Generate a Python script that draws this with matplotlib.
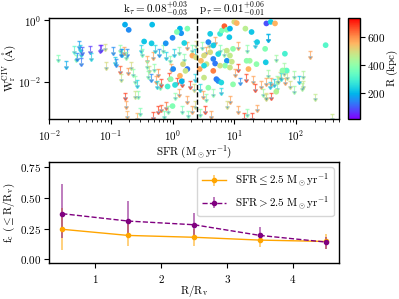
import numpy as np
import matplotlib
matplotlib.use("Agg")
import matplotlib.pyplot as plt
from matplotlib.colors import Normalize, to_rgba
from matplotlib.cm import ScalarMappable

plt.rcParams['font.family'] = 'serif'
plt.rcParams['font.serif'] = ['cmr10']
plt.rcParams['mathtext.fontset'] = 'cm'
plt.rcParams['axes.unicode_minus'] = False
plt.rcParams['axes.formatter.use_mathtext'] = True
plt.rcParams['font.size'] = 8
plt.rcParams['ytick.major.pad'] = 2

# detections: log10 SFR, log10 W_r, R (kpc)
det_log_sfr = [-0.77, -0.71, -0.33, -0.46, -0.34, 0.00, 0.12, 0.14, 0.07, 0.24,
               -0.11, 0.19, 0.01, -0.08, 0.00, 0.24, 0.32, 0.38, 0.21, 0.12,
               0.17, -0.03, 0.04, 0.15, 0.61, 0.58, 0.66, 0.77, 0.80, 0.84,
               0.88, 0.92, 0.93, 1.00, 1.04, 1.18, 1.28, 1.52, 1.59, 1.66,
               1.37, 1.50, 1.51, 1.82, 2.48, 1.85, 1.78, 1.68, 1.25, 1.20,
               0.51, 0.46, 0.55, 0.66, 0.69, 0.74, 0.88, 0.93, 0.88, 0.96,
               0.85, 0.66, 0.71, 0.74, 0.79, 0.44, 0.51, 0.98, 0.58, 1.36,
               0.51, 0.98, 1.23, 0.93, 0.61, 0.77]
det_log_w = [-0.14, -0.31, -0.14, -0.69, -0.75, -0.57, -0.27, -0.42, -0.38, -0.27,
             -0.75, -0.74, -1.59, -2.16, -2.80, -1.59, -1.15, -1.21, -1.65, -1.81,
             -1.43, -1.92, -2.11, -1.99, -0.44, -0.71, -0.82, -0.44, -0.33, -0.19,
             -0.31, -0.55, -0.27, -0.05, -0.09, -0.27, -0.38, -0.10, -0.05, -0.10,
             -0.71, -0.93, -1.37, -1.09, -0.81, -1.64, -1.64, -2.33, -1.32, -1.32,
             -1.15, -1.32, -1.43, -1.26, -1.41, -1.10, -0.99, -1.15, -1.32, -1.35,
             -1.48, -1.65, -1.92, -1.98, -2.03, -1.59, -1.87, -2.09, -2.20, -1.43,
             -1.48, -0.93, -1.59, -1.54, -1.04, -1.48]
det_r = [190, 150, 210, 220, 230, 150, 200, 160, 380, 380,
         160, 240, 150, 300, 380, 130, 570, 500, 480, 560,
         500, 400, 260, 200, 230, 150, 230, 280, 370, 650,
         380, 220, 200, 500, 560, 460, 220, 90, 230, 560,
         230, 380, 230, 300, 320, 330, 400, 450, 420, 400,
         500, 550, 480, 140, 130, 250, 480, 470, 160, 480,
         400, 620, 130, 150, 250, 580, 480, 400, 400, 400,
         250, 400, 560, 480, 500, 490]

# upper limits: log10 SFR, log10 W_r, R (kpc)
lim_log_sfr = [-1.85, -1.72, -1.60, -1.57, -1.55, -1.51, -1.50, -1.49, -1.48, -1.47,
               -1.34, -1.32, -1.18, -1.16, -1.10, -1.08, -0.94, -0.85, -0.84, -0.82,
               -0.97, -0.91, -0.85, -0.83, -0.79, -0.73, -0.75, -0.72, -0.68, -0.64,
               -0.61, -0.58, -0.56, -0.61, -0.77, -0.75, -0.73, -0.57, -0.53, -0.51,
               -0.49, -0.42, -0.42, -0.38, -0.39, -0.35, -0.31, -0.30, -0.27, -0.23,
               -0.25, -0.21, -0.18, -0.32, -0.23, -0.19, -0.14, -0.10, -0.07, -0.29,
               -0.22, -0.15, -0.11, -0.04, -0.02, -0.05, 0.07, 0.15, 0.10, 0.04,
               0.16, 0.23, 0.31, 0.25, 0.36, 0.34, 0.36, 0.28, 0.23, 0.31,
               0.36, 0.38, 0.02, 0.10, 0.18, 0.47, 0.55, 0.59, 0.68, 0.77,
               0.84, 1.06, 1.20, 1.33, 1.55, 1.06, 1.01, 1.09, 1.19, 1.31,
               1.34, 1.44, 1.47, 1.52, 1.37, 1.28, 1.15, 1.21, 1.06, 0.93,
               0.88, 0.79, 0.66, 0.55, 0.53, 0.44, 0.63, 0.44, 0.50, 1.64,
               1.69, 1.74, 1.82, 1.90, 1.96, 1.96, 2.05, 2.12, 2.23, 2.31,
               2.58, 1.86, 2.11, 2.10, 1.80, 1.80, 1.68, 1.70, 1.54, 1.52,
               1.59, 1.58, 1.59, 1.51, 1.75, 1.71, 1.54]
lim_log_w = [-1.12, -1.34, -0.85, -1.12, -1.07, -0.68, -0.79, -0.96, -1.23, -0.88,
             -0.85, -1.07, -0.82, -0.79, -0.76, -1.37, -1.21, -1.50, -1.76, -0.93,
             -0.88, -1.26, -0.82, -0.93, -0.88, -0.93, -1.04, -1.54, -1.37, -1.59,
             -1.81, -1.96, -2.31, -2.31, -2.36, -2.64, -2.97, -3.02, -2.86, -0.82,
             -0.93, -1.15, -1.34, -1.48, -1.65, -1.76, -1.04, -1.43, -1.81, -1.59,
             -1.98, -2.03, -1.92, -3.00, -2.80, -2.75, -2.97, -2.67, -2.80, -0.82,
             -0.93, -0.82, -1.04, -1.15, -1.43, -1.73, -1.87, -1.92, -2.25, -2.36,
             -2.80, -2.47, -2.80, -2.95, -2.64, -2.09, -1.76, -1.98, -0.71, -0.82,
             -0.93, -0.66, -0.93, -0.88, -1.10, -0.71, -0.88, -0.66, -0.55, -0.82,
             -0.93, -0.71, -0.82, -0.66, -0.44, -1.43, -1.59, -1.87, -1.76, -1.81,
             -2.09, -1.98, -2.25, -2.36, -2.75, -3.02, -3.02, -2.91, -2.80, -2.47,
             -2.64, -2.20, -2.25, -2.42, -2.80, -2.91, -2.97, -2.09, -2.31, -1.92,
             -1.81, -1.70, -1.87, -1.98, -1.65, -2.14, -1.83, -1.98, -1.01, -2.39,
             -3.05, -1.68, -1.67, -2.06, -1.40, -1.56, -1.12, -2.06, -1.62, -1.89,
             -1.89, -2.00, -2.36, -2.39, -1.73, -1.84, -0.46]
lim_r = [380, 190, 320, 380, 150, 170, 230, 240, 130, 100,
         70, 250, 50, 60, 500, 500, 230, 650, 480, 230,
         150, 150, 400, 150, 580, 150, 400, 600, 500, 400,
         400, 250, 400, 480, 680, 580, 560, 560, 380, 240,
         380, 580, 400, 490, 400, 150, 580, 400, 580, 600,
         250, 400, 680, 680, 680, 650, 380, 640, 400, 240,
         160, 380, 240, 400, 580, 680, 680, 680, 580, 400,
         380, 580, 580, 380, 500, 500, 240, 680, 580, 380,
         240, 500, 240, 400, 400, 400, 580, 500, 580, 380,
         420, 580, 400, 240, 200, 680, 580, 150, 680, 580,
         680, 580, 420, 500, 580, 680, 680, 400, 580, 580,
         500, 250, 400, 400, 680, 400, 580, 250, 580, 240,
         400, 500, 580, 500, 420, 420, 220, 480, 580, 470,
         480, 480, 440, 440, 420, 480, 420, 380, 420, 580,
         580, 240, 680, 500, 260, 480, 200]

sfr_cut = 2.5
title_txt = r'$\rm k_\tau = 0.08^{+0.03}_{-0.03}\quad\ p_\tau = 0.01^{+0.06}_{-0.01}$'

# covering fraction vs R/Rv
rbins = [0.5, 1.5, 2.5, 3.5, 4.5]
fc_low = [0.245, 0.195, 0.180, 0.157, 0.146]
fc_low_lo = [0.075, 0.105, 0.110, 0.103, 0.086]
fc_low_hi = [0.420, 0.290, 0.250, 0.210, 0.206]
fc_high = [0.372, 0.312, 0.282, 0.195, 0.141]
fc_high_lo = [0.176, 0.210, 0.190, 0.130, 0.086]
fc_high_hi = [0.614, 0.475, 0.380, 0.260, 0.184]

cmap = plt.get_cmap('rainbow')
norm = Normalize(vmin=15, vmax=740)

fig = plt.figure(figsize=(3.99, 2.99), dpi=100)
ax1 = fig.add_axes([0.123, 0.602, 0.727, 0.338])
cax = fig.add_axes([0.872, 0.602, 0.030, 0.338])
ax2 = fig.add_axes([0.123, 0.121, 0.727, 0.338])

# upper limits as down arrows
lx = 10 ** np.array(lim_log_sfr)
ly = 10 ** np.array(lim_log_w)
for xi, yi, ri in zip(lx, ly, lim_r):
    ax1.errorbar([xi], [yi], yerr=[yi * 0.3], uplims=True, fmt='none',
                 ecolor=cmap(norm(ri)), elinewidth=0.8, capsize=1.4,
                 alpha=0.7, zorder=2)

ax1.scatter(10 ** np.array(det_log_sfr), 10 ** np.array(det_log_w), c=det_r,
            cmap=cmap, norm=norm, s=17, edgecolors='none', zorder=3)
ax1.axvline(sfr_cut, color='k', ls='--', lw=1, zorder=4)
ax1.set_xscale('log')
ax1.set_yscale('log')
ax1.set_xlim(0.01, 500)
ax1.set_ylim(6e-4, 1.2)
ax1.set_xlabel(r'$\rm SFR\ (M_\odot yr^{-1})$', labelpad=0)
ax1.set_ylabel(r'$\rm W_r^{CIV}\ (\AA)$', labelpad=0)
ax1.set_title(title_txt, fontsize=8, pad=3)
ax1.set_yticks([1e-2, 1])
ax1.tick_params(axis='y', which='minor', left=False)

cb = fig.colorbar(ScalarMappable(norm=norm, cmap=cmap), cax=cax)
cb.set_ticks([200, 400, 600])
cb.ax.tick_params(pad=1.5)
cb.set_label(r'$\rm R\ (kpc)$', labelpad=-0.5)
cb.outline.set_linewidth(1)

c_low = 'orange'
c_high = 'purple'
ax2.errorbar(rbins, fc_low,
             yerr=[np.array(fc_low) - np.array(fc_low_lo), np.array(fc_low_hi) - np.array(fc_low)],
             fmt='o-', color=c_low, ms=3, lw=1, ecolor=to_rgba(c_low, 0.6), elinewidth=1.2,
             label=r'$\rm SFR \leq 2.5\ M_\odot yr^{-1}$')
ax2.errorbar(rbins, fc_high,
             yerr=[np.array(fc_high) - np.array(fc_high_lo), np.array(fc_high_hi) - np.array(fc_high)],
             fmt='o--', color=c_high, ms=3, lw=1, ecolor=to_rgba(c_high, 0.6), elinewidth=1.2,
             label=r'$\rm SFR > 2.5\ M_\odot yr^{-1}$')
ax2.set_xlim(0.3, 4.7)
ax2.set_ylim(-0.028, 0.795)
ax2.set_yticks([0.0, 0.25, 0.5, 0.75])
ax2.set_xticks([1, 2, 3, 4])
ax2.set_xlabel(r'$\rm R/R_v$', labelpad=-1)
ax2.set_ylabel(r'$\rm f_c\ (\leq R/R_v)$', labelpad=2)
ax2.legend(loc='upper right', fontsize=8, handlelength=2.2)

for ax in (ax1, ax2):
    for s in ax.spines.values():
        s.set_linewidth(1)

fig.savefig('out.png', dpi=100)
